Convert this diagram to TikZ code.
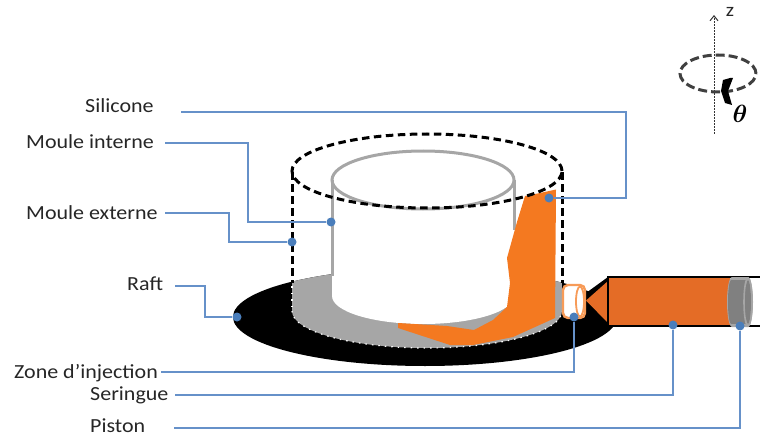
\documentclass[tikz,border=0pt]{standalone}
\usepackage{amsmath}
\usepackage{fontspec}
\setmainfont[FakeStretch=1.1]{Carlito}
\usetikzlibrary{arrows.meta}
\definecolor{callout}{HTML}{6691C9}
\definecolor{dotblue}{HTML}{4A7EBB}
\definecolor{silicone}{HTML}{F47920}
\definecolor{barrel}{HTML}{E46C26}
\definecolor{mould}{HTML}{A6A6A6}
\tikzset{
  x=1pt,y=-1pt,
  lab/.style={font=\fontsize{20}{22}\selectfont,inner sep=0pt,anchor=base west,text=black!85},
  dotn/.style={circle,fill=dotblue,inner sep=0pt,minimum size=9pt},
  lead/.style={draw=callout,line width=1.2pt},
  outerdash/.style={black,line width=3pt,dash pattern=on 7.5pt off 4.5pt},
  innerline/.style={mould,line width=3pt},
  edgedots/.style={white,line width=1.2pt,dash pattern=on 1.5pt off 5pt}
}
\begin{document}
\begin{tikzpicture}
\useasboundingbox (0,0) rectangle (760,441);
% raft
\fill[black] (425,317) ellipse [x radius=192pt,y radius=49pt];
% grey base of outer mould
\begin{scope}
  \clip (425,317) ellipse [x radius=192pt,y radius=49pt];
  \fill[mould] (292,250) rectangle (562,311);
  \fill[mould] (427,311) ellipse [x radius=135pt,y radius=37pt];
\end{scope}
% inner mould
\fill[white] (332,180) rectangle (514,296);
\fill[white] (423,296) ellipse [x radius=91pt,y radius=28pt];
\draw[innerline] (332,180) -- (332,276);
\draw[innerline] (514,180) -- (514,230);
\draw[innerline] (423,180) ellipse [x radius=91pt,y radius=29pt];
% silicone
\fill[silicone] (556,189.5) -- (540,193) -- (525,196) -- (517,222) -- (507,258) -- (510,283) -- (507,307)
  -- (493,320) -- (474,330) -- (447,326) -- (398,323) -- (398,328) -- (450,345) -- (473,345)
  -- (513,337) -- (555,318) -- cycle;
% outer mould
\draw[outerdash] (427,171) ellipse [x radius=135pt,y radius=37pt];
\draw[outerdash] (292,172) -- (292,283);
\draw[outerdash] (562,172) -- (562,283);
\begin{scope}
  \clip (280,311) rectangle (575,352);
  \draw[edgedots] (427,311) ellipse [x radius=135pt,y radius=37pt];
\end{scope}
\draw[edgedots] (292,286) -- (292,311);
% syringe
\fill[black] (586,293) -- (608,277) -- (608,326) -- (586,308) -- cycle;
\fill[barrel] (586,300.5) -- (608,281) -- (608,323) -- cycle;
\draw[black,line width=2pt] (760,277) -- (608,277) -- (608,326) -- (760,326);
\fill[barrel] (609,278) rectangle (730,325);
% injection zone
\draw[silicone!75!white,line width=2.4pt,fill=white,rounded corners=5pt] (563,285) rectangle (585,318);
\draw[silicone!75!white,line width=1.8pt,fill=white] (580,301.5) ellipse [x radius=4pt,y radius=15pt];
% piston
\fill[mould] (732,277) -- (748,277) arc [start angle=-90,end angle=90,x radius=5pt,y radius=-25pt] -- (732,327)
  arc [start angle=90,end angle=270,x radius=5pt,y radius=-25pt] -- cycle;
\fill[black!50] (731,280) rectangle (746,324);
\fill[black!50] (731,302) ellipse [x radius=3pt,y radius=22pt];
\fill[black!50] (748,302) ellipse [x radius=3pt,y radius=22pt];
\draw[mould,line width=1.6pt] (748,302) ellipse [x radius=4pt,y radius=24pt];
% labels
\node[lab] (silicone) at (85,113) {Silicone};
\node[lab] (interne) at (26,148) {Moule interne};
\node[lab] (externe) at (26,219) {Moule externe};
\node[lab] (raft) at (127,290) {Raft};
\node[lab] (zone) at (14,378) {Zone d’injection};
\node[lab] (seringue) at (90,400) {Seringue};
\node[lab] (piston) at (90,432) {Piston};
% callout dots
\node[dotn] (dsil) at (549,198) {};
\node[dotn] (dint) at (331,222) {};
\node[dotn] (dext) at (292,242) {};
\node[dotn] (draft) at (237,317) {};
\node[dotn] (dzone) at (574,317) {};
\node[dotn] (dser) at (673,325) {};
\node[dotn] (dpis) at (740,326) {};
\coordinate (ssil) at (181,112);
\coordinate (sint) at (165,143);
\coordinate (sext) at (165,213);
\coordinate (sraft) at (175,286);
\coordinate (szone) at (161,372);
\coordinate (sser) at (175,395);
\coordinate (spis) at (174,428);
\draw[lead] (ssil) -- (626,112) -- (626,198) -- (dsil);
\draw[lead] (sint) -- (248,143) -- (248,222) -- (dint);
\draw[lead] (sext) -- (229,213) -- (229,242) -- (dext);
\draw[lead] (sraft) -- (205,286) -- (205,317) -- (draft);
\draw[lead] (szone) -| (dzone);
\draw[lead] (sser) -| (dser);
\draw[lead] (spis) -| (dpis);
% rotation axes
\coordinate (zbot) at (714,134);
\coordinate (ztop) at (714,15);
\draw[black!80,line width=1pt,dash pattern=on 2pt off 1pt,-{Straight Barb[length=5pt,width=8pt]}] (zbot) -- (ztop);
\node[font=\fontsize{19}{20}\selectfont,inner sep=0pt,text=black!85] (zlabel) at (730,12) {z};
\draw[black!75,line width=3pt,dash pattern=on 9pt off 4pt] (718,73.5) ellipse [x radius=38pt,y radius=18.5pt];
\fill[black] (730,78) -- (723,80) -- (721,91) -- (725,103) -- (732,105) -- (728,91) -- (733,78) -- cycle;
\node[inner sep=0pt] (theta) at (740,114) {\fontsize{24}{26}\selectfont$\boldsymbol{\theta}$};
\end{tikzpicture}
\end{document}
